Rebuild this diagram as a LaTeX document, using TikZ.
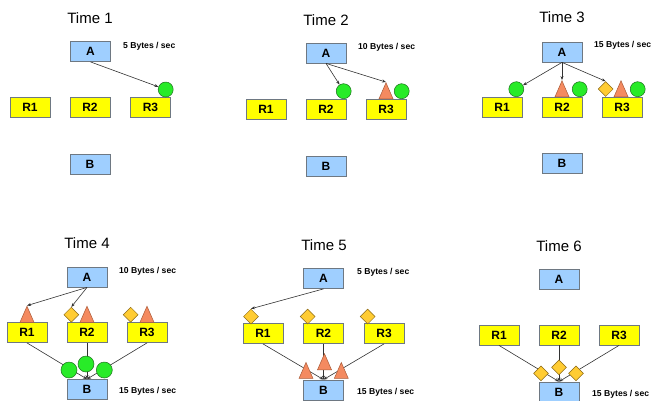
\documentclass[tikz,border=0pt]{standalone}
\usepackage{fontspec}
\setmainfont{Liberation Sans}
\usetikzlibrary{shapes.geometric,arrows.meta}
\definecolor{boxblue}{RGB}{159,207,255}
\definecolor{boxedge}{RGB}{110,120,130}
\definecolor{boxyellow}{RGB}{255,255,0}
\definecolor{tokgreen}{RGB}{40,235,40}
\definecolor{tokgreenedge}{RGB}{30,110,30}
\definecolor{toksalmon}{RGB}{244,138,96}
\definecolor{toksalmonedge}{RGB}{170,90,55}
\definecolor{tokgold}{RGB}{255,204,51}
\definecolor{tokgoldedge}{RGB}{140,105,20}
\definecolor{flowline}{RGB}{50,50,50}
\tikzset{
  hostbox/.style={rectangle, draw=boxedge, line width=0.8pt, fill=boxblue,
    minimum width=40pt, minimum height=20pt, inner sep=0pt,
    font=\fontsize{12}{14}\selectfont\bfseries},
  relaybox/.style={hostbox, fill=boxyellow},
  timelabel/.style={font=\fontsize{15}{18}\selectfont},
  ratelabel/.style={anchor=west, inner sep=0pt, font=\fontsize{8.6}{10}\selectfont\bfseries},
  ball/.style={circle, draw=tokgreenedge, line width=0.5pt, fill=tokgreen,
    minimum size=15pt, inner sep=0pt},
  bigball/.style={ball, minimum size=16pt},
  cone/.style={isosceles triangle, isosceles triangle stretches,
    shape border rotate=90, draw=toksalmonedge, line width=0.5pt, fill=toksalmon,
    minimum width=14pt, minimum height=16pt, inner sep=0pt, anchor=south},
  gem/.style={diamond, draw=tokgoldedge, line width=0.5pt, fill=tokgold,
    minimum width=15pt, minimum height=15pt, inner sep=0pt},
  flow/.style={draw=flowline, line width=0.6pt,
    -{Stealth[length=4pt,width=3pt]}},
}
\begin{document}
\begin{tikzpicture}[x=1pt,y=-1pt]
\useasboundingbox (0,0) rectangle (655,400);

% ---------- Time 1 ----------
\node[timelabel] (t1) at (90,18) {Time 1};
\node[hostbox] (a1) at (90.5,51.5) {A};
\node[ratelabel] (r1rate) at (123,46) {5 Bytes / sec};
\node[relaybox] (p1r1) at (30,107) {R1};
\node[relaybox] (p1r2) at (90,107) {R2};
\node[relaybox] (p1r3) at (150.5,107) {R3};
\node[hostbox] (b1) at (90,164.5) {B};
\node[ball] (p1g3) at (165.7,89.5) {};
\draw[flow] (a1.south) -- (p1g3);

% ---------- Time 2 ----------
\node[timelabel] (t2) at (326,20) {Time 2};
\node[hostbox] (a2) at (326,53) {A};
\node[ratelabel] (r2rate) at (358,47) {10 Bytes / sec};
\node[relaybox] (p2r1) at (266,109) {R1};
\node[relaybox] (p2r2) at (326,109) {R2};
\node[relaybox] (p2r3) at (386,109) {R3};
\node[hostbox] (b2) at (326,166) {B};
\node[ball] (p2g2) at (343.7,91.2) {};
\node[cone] (p2c3) at (386,99) {};
\node[ball] (p2g3) at (401.7,91.2) {};
\draw[flow] (a2.south) -- (p2g2);
\draw[flow] (a2.south) -- (p2c3.apex);

% ---------- Time 3 ----------
\node[timelabel] (t3) at (562,17) {Time 3};
\node[hostbox] (a3) at (562,52) {A};
\node[ratelabel] (r3rate) at (594,45) {15 Bytes / sec};
\node[relaybox] (p3r1) at (502,107) {R1};
\node[relaybox] (p3r2) at (562,107) {R2};
\node[relaybox] (p3r3) at (622,107) {R3};
\node[hostbox] (b3) at (562,163) {B};
\node[ball] (p3g1) at (516.3,89.2) {};
\node[cone] (p3c2) at (562,97) {};
\node[ball] (p3g2) at (579.7,89.2) {};
\node[gem] (p3d3) at (605.7,89) {};
\node[cone] (p3c3) at (621,97) {};
\node[ball] (p3g3) at (637.7,89.2) {};
\draw[flow] (a3.south) -- (p3g1);
\draw[flow] (a3.south) -- (p3c2.apex);
\draw[flow] (a3.south) -- (p3d3.north);

% ---------- Time 4 ----------
\node[timelabel] (t4) at (87,243) {Time 4};
\node[hostbox] (a4) at (87,277) {A};
\node[ratelabel] (r4rate) at (119,271) {10 Bytes / sec};
\node[relaybox] (p4r1) at (27,332.5) {R1};
\node[relaybox] (p4r2) at (87,332.5) {R2};
\node[relaybox] (p4r3) at (147,332.5) {R3};
\node[hostbox] (b4) at (87,389.5) {B};
\node[ratelabel] (r4out) at (119,391.7) {15 Bytes / sec};
\node[cone] (p4c1) at (27,322.5) {};
\node[gem] (p4d2) at (71.3,314.7) {};
\node[cone] (p4c2) at (87,322.5) {};
\node[gem] (p4d3) at (130.7,314.7) {};
\node[cone] (p4c3) at (147,322.5) {};
\draw[flow] (a4.south) -- (p4c1.apex);
\draw[flow] (a4.south) -- (p4d2.north);
\draw[flow] (p4r1.south) -- (b4.north);
\draw[flow] (p4r2.south) -- (b4.north);
\draw[flow] (p4r3.south) -- (b4.north);
\node[bigball] (p4g1) at (69,370) {};
\node[bigball] (p4g2) at (86,364) {};
\node[bigball] (p4g3) at (104.3,370) {};

% ---------- Time 5 ----------
\node[timelabel] (t5) at (324,245) {Time 5};
\node[hostbox] (a5) at (323.5,278.5) {A};
\node[ratelabel] (r5rate) at (357,272.7) {5 Bytes / sec};
\node[relaybox] (p5r1) at (263,333.5) {R1};
\node[relaybox] (p5r2) at (323.5,333.5) {R2};
\node[relaybox] (p5r3) at (384,333.5) {R3};
\node[hostbox] (b5) at (323.5,390) {B};
\node[ratelabel] (r5out) at (357,392.7) {15 Bytes / sec};
\node[gem] (p5d1) at (251,316.5) {};
\node[gem] (p5d2) at (307.7,316.5) {};
\node[gem] (p5d3) at (367.7,316.5) {};
\draw[flow] (a5.south) -- (p5d1.north);
\draw[flow] (p5r1.south) -- (b5.north);
\draw[flow] (p5r2.south) -- (b5.north);
\draw[flow] (p5r3.south) -- (b5.north);
\node[cone] (p5c1) at (306,378.7) {};
\node[cone] (p5c2) at (324.5,370) {};
\node[cone] (p5c3) at (341.3,378.7) {};

% ---------- Time 6 ----------
\node[timelabel] (t6) at (559,246) {Time 6};
\node[hostbox] (a6) at (559,279.5) {A};
\node[relaybox] (p6r1) at (499,335) {R1};
\node[relaybox] (p6r2) at (559,335) {R2};
\node[relaybox] (p6r3) at (619,335) {R3};
\node[hostbox] (b6) at (559,392) {B};
\node[ratelabel] (r6out) at (592,394) {15 Bytes / sec};
\draw[flow] (p6r1.south) -- (b6.north);
\draw[flow] (p6r2.south) -- (b6.north);
\draw[flow] (p6r3.south) -- (b6.north);
\node[gem] (p6d1) at (541,373.3) {};
\node[gem] (p6d2) at (559,367.3) {};
\node[gem] (p6d3) at (576,373.3) {};
\end{tikzpicture}
\end{document}
